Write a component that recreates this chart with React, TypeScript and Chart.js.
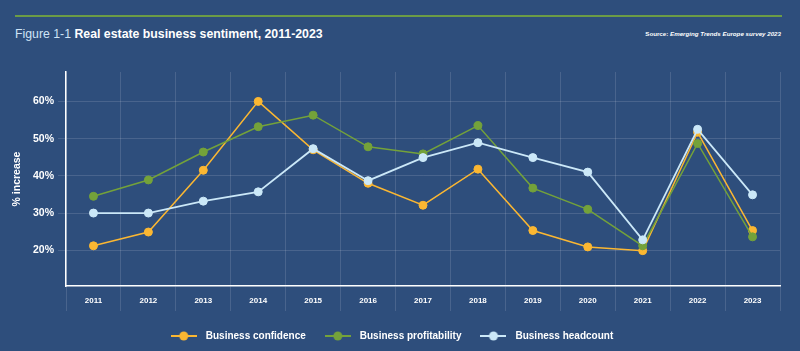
import React, { useEffect, useRef } from 'react';
import { Chart, registerables } from 'chart.js';

Chart.register(...registerables);

const years = ['2011', '2012', '2013', '2014', '2015', '2016', '2017', '2018', '2019', '2020', '2021', '2022', '2023'];
const confidence = [21.2, 24.9, 41.5, 60.0, 47.0, 38.0, 32.1, 41.8, 25.3, 20.9, 19.9, 51.7, 25.3];
const profitability = [34.5, 38.9, 46.4, 53.2, 56.3, 47.8, 45.9, 53.5, 36.7, 31.0, 21.2, 48.7, 23.6];
const headcount = [30.0, 30.0, 33.2, 35.7, 47.3, 38.7, 44.9, 48.9, 44.9, 41.0, 22.8, 52.5, 34.9];
const yTicks = [20, 30, 40, 50, 60];

const seriesNames = ['Business confidence', 'Business profitability', 'Business headcount'];
const seriesColors = ['#fbb732', '#74a23a', '#cbe8f8'];
const seriesWidths = [1.5, 1.5, 1.8];

const BG = '#2e4e7c';
const GRID = 'rgba(255,255,255,0.13)';
const FONT = '"Liberation Sans", Arial, Helvetica, sans-serif';

function makeIcon(color: string): HTMLCanvasElement {
  const c = document.createElement('canvas');
  c.width = 26;
  c.height = 10;
  const ctx = c.getContext('2d')!;
  ctx.strokeStyle = color;
  ctx.lineWidth = 2;
  ctx.beginPath();
  ctx.moveTo(0, 5);
  ctx.lineTo(26, 5);
  ctx.stroke();
  ctx.fillStyle = color;
  ctx.beginPath();
  ctx.arc(13, 5, 4.5, 0, Math.PI * 2);
  ctx.fill();
  return c;
}

export default function App() {
  const ref = useRef<HTMLCanvasElement | null>(null);

  useEffect(() => {
    if (!ref.current) return;
    const values = [confidence, profitability, headcount];
    const orders = [3, 2, 1];
    const chart = new Chart(ref.current, {
      type: 'line',
      data: {
        labels: years,
        datasets: values.map((v, i) => ({
          label: seriesNames[i],
          data: v,
          borderColor: seriesColors[i],
          backgroundColor: seriesColors[i],
          pointBackgroundColor: seriesColors[i],
          pointBorderColor: seriesColors[i],
          borderWidth: seriesWidths[i],
          pointRadius: 4,
          pointBorderWidth: 1,
          pointHoverRadius: 4,
          tension: 0,
          fill: false,
          order: orders[i],
        })),
      },
      options: {
        responsive: false,
        animation: false,
        maintainAspectRatio: false,
        layout: { padding: { top: 72, right: 20, left: 0, bottom: 0 } },
        plugins: {
          tooltip: { enabled: false },
          legend: {
            position: 'bottom',
            labels: {
              usePointStyle: true,
              pointStyleWidth: 34,
              boxHeight: 10,
              padding: 15,
              color: '#ffffff',
              font: { family: FONT, size: 10, weight: 'bold' },
              generateLabels: (ch: any) =>
                ch.data.datasets.map((ds: any, i: number) => ({
                  text: ds.label,
                  fillStyle: ds.borderColor,
                  strokeStyle: ds.borderColor,
                  lineWidth: 0,
                  pointStyle: makeIcon(ds.borderColor),
                  datasetIndex: i,
                  hidden: false,
                  fontColor: '#ffffff',
                })),
            },
          },
        },
        scales: {
          x: {
            type: 'category',
            offset: true,
            grid: { offset: true, color: GRID, tickColor: GRID, tickLength: 25, lineWidth: 1 },
            border: { color: '#ffffff', width: 1.5 },
            ticks: {
              color: '#ffffff',
              font: { family: FONT, size: 8, weight: 'bold' },
              padding: -15,
              maxRotation: 0,
              autoSkip: false,
            },
            afterFit: (s: any) => {
              s.height = 30;
            },
          },
          y: {
            type: 'linear',
            min: 10.4,
            max: 67.9,
            grid: { color: GRID, tickColor: GRID, tickLength: 8, lineWidth: 1 },
            border: { color: '#ffffff', width: 1.5 },
            ticks: {
              color: '#ffffff',
              font: { family: FONT, size: 10.5, weight: 'bold' },
              padding: 4,
              includeBounds: false,
              callback: (v: any) => v + '%',
            },
            afterBuildTicks: (s: any) => {
              s.ticks = yTicks.map((v) => ({ value: v }));
            },
            title: {
              display: true,
              text: '% increase',
              color: '#ffffff',
              font: { family: FONT, size: 10.5, weight: 'bold' },
              padding: { top: 11, bottom: 0 },
            },
            afterFit: (s: any) => {
              s.width = 66;
            },
          },
        },
      } as any,
    });
    return () => chart.destroy();
  }, []);

  return (
    <div
      style={{
        position: 'fixed',
        left: 0,
        top: 0,
        width: 800,
        height: 351,
        background: BG,
        overflow: 'hidden',
        fontFamily: FONT,
      }}
    >
      <div style={{ position: 'absolute', left: 15, top: 15, width: 767, height: 1.5, background: '#6c9c46' }} />
      <div
        style={{
          position: 'absolute',
          left: 15,
          top: 27,
          fontSize: 12.3,
          lineHeight: '15px',
          whiteSpace: 'nowrap',
        }}
      >
        <span style={{ color: '#cfe4f6' }}>Figure 1-1 </span>
        <span style={{ color: '#ffffff', fontWeight: 'bold' }}>Real estate business sentiment, 2011-2023</span>
      </div>
      <div
        style={{
          position: 'absolute',
          right: 19,
          top: 29.5,
          fontSize: 6.2,
          lineHeight: '8px',
          fontWeight: 'bold',
          color: '#ffffff',
          whiteSpace: 'nowrap',
        }}
      >
        Source: <i>Emerging Trends Europe survey 2023</i>
      </div>
      <canvas ref={ref} width={800} height={351} style={{ position: 'absolute', left: 0, top: 0, width: 800, height: 351 }} />
    </div>
  );
}
